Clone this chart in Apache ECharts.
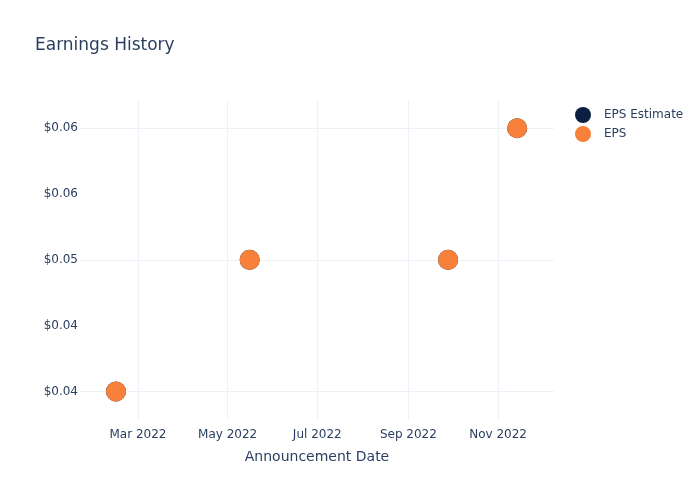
<!DOCTYPE html>
<html>
<head>
<meta charset="utf-8">
<script src="https://cdn.jsdelivr.net/npm/echarts@6/dist/echarts.min.js"></script>
<style>html,body{margin:0;padding:0;background:#fff}#c{width:700px;height:500px}</style>
</head>
<body>
<div id="c"></div>
<script>
const dates = ['2022-02-14T00:00:00', '2022-05-16T00:00:00', '2022-09-28T00:00:00', '2022-11-14T00:00:00'];
const epsEstimate = [0.04, 0.05, 0.05, 0.06];
const eps = [0.04, 0.05, 0.05, 0.06];
const yTicks = [0.04, 0.045, 0.05, 0.055, 0.06];
const yTickLabels = ['$0.04', '$0.04', '$0.05', '$0.06', '$0.06'];
const xTicks = ['2022-03-01T00:00:00', '2022-05-01T00:00:00', '2022-07-01T00:00:00', '2022-09-01T00:00:00', '2022-11-01T00:00:00'];
const xTickLabels = ['Mar 2022', 'May 2022', 'Jul 2022', 'Sep 2022', 'Nov 2022'];

const FONT = 'DejaVu Sans';
const TXT = '#2a3f5f';
const GRID = '#edf1f8';
const ts = d => new Date(d).getTime();
const xTickTs = xTicks.map(ts);

const chart = echarts.init(document.getElementById('c'));
chart.setOption({
  animation: false,
  backgroundColor: '#fff',
  textStyle: { fontFamily: FONT, color: TXT },
  title: {
    text: 'Earnings History', left: 30, top: 32,
    textStyle: { fontFamily: FONT, fontSize: 17, fontWeight: 'normal', color: TXT }
  },
  legend: {
    data: ['EPS Estimate', 'EPS'],
    orient: 'vertical', left: 570, top: 102, itemGap: 3,
    itemWidth: 16, itemHeight: 16, icon: 'circle',
    textStyle: { fontFamily: FONT, fontSize: 12, color: TXT, padding: [0, 0, 0, 8] }
  },
  grid: { left: 80, right: 146, top: 100, bottom: 80 },
  xAxis: {
    type: 'value',
    min: ts('2022-01-20T12:45:00'),
    max: ts('2022-12-09T02:00:00'),
    name: 'Announcement Date', nameLocation: 'middle', nameGap: 30,
    nameTextStyle: { fontFamily: FONT, fontSize: 14, color: TXT },
    axisLine: { show: false }, axisTick: { show: false }, splitLine: { show: false },
    axisLabel: {
      customValues: xTickTs, margin: 9,
      fontFamily: FONT, fontSize: 12, color: TXT,
      formatter: v => { const i = xTickTs.findIndex(t => Math.abs(t - v) < 1000); return i >= 0 ? xTickLabels[i] : ''; }
    }
  },
  yAxis: {
    type: 'value', min: 0.03783, max: 0.06215, scale: true,
    axisLine: { show: false }, axisTick: { show: false }, splitLine: { show: false },
    axisLabel: {
      customValues: yTicks, margin: 2,
      fontFamily: FONT, fontSize: 12, color: TXT,
      formatter: v => { const i = yTicks.findIndex(t => Math.abs(t - v) < 1e-9); return i >= 0 ? yTickLabels[i] : ''; }
    }
  },
  series: [
    {
      name: 'grid', type: 'scatter', data: [], z: 0, silent: true,
      markLine: {
        z: 0, silent: true, symbol: 'none', label: { show: false },
        lineStyle: { color: GRID, width: 1, type: 'solid' },
        data: yTicks.map(v => ({ yAxis: v })).concat(xTickTs.map(v => ({ xAxis: v })))
      }
    },
    {
      name: 'EPS Estimate', type: 'scatter', z: 2, symbolSize: 20,
      itemStyle: { color: '#0b1f41', opacity: 1 },
      data: dates.map((d, i) => [ts(d), epsEstimate[i]])
    },
    {
      name: 'EPS', type: 'scatter', z: 3, symbolSize: 20,
      itemStyle: { color: '#f7803a', opacity: 1 },
      data: dates.map((d, i) => [ts(d), eps[i]])
    }
  ]
});
</script>
</body>
</html>
